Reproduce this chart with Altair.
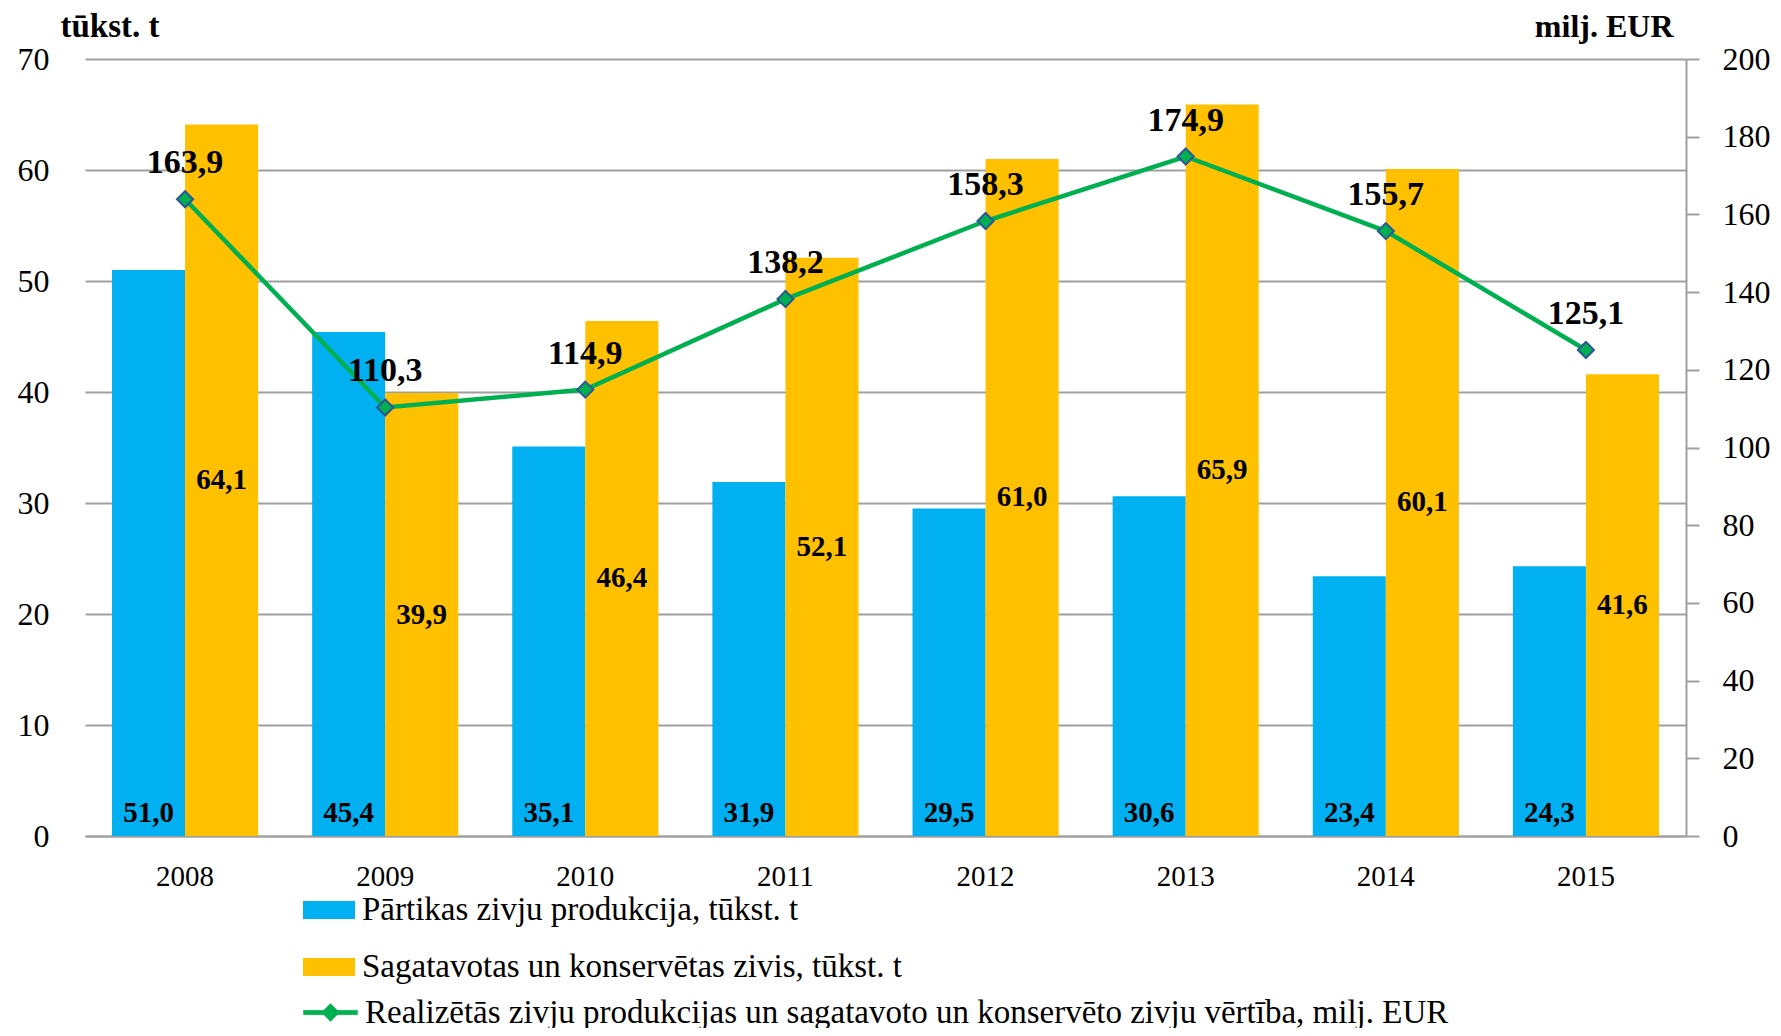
import altair as alt
import pandas as pd

years = ["2008", "2009", "2010", "2011", "2012", "2013", "2014", "2015"]
food = [51.0, 45.4, 35.1, 31.9, 29.5, 30.6, 23.4, 24.3]
canned = [64.1, 39.9, 46.4, 52.1, 61.0, 65.9, 60.1, 41.6]
value = [163.9, 110.3, 114.9, 138.2, 158.3, 174.9, 155.7, 125.1]

s_food = "Pārtikas zivju produkcija, tūkst. t"
s_canned = "Sagatavotas un konservētas zivis, tūkst. t"
s_value = "Realizētās zivju produkcijas un sagatavoto un konservēto zivju vērtība, milj. EUR"

left_ticks = [0, 10, 20, 30, 40, 50, 60, 70]
right_ticks = [0, 20, 40, 60, 80, 100, 120, 140, 160, 180, 200]

BLUE = "#00B0F0"
YELLOW = "#FFC000"
GREEN = "#00B050"
FONT = "Liberation Serif"

bars_df = pd.DataFrame({
    "year": years * 2,
    "series": [s_food] * len(years) + [s_canned] * len(years),
    "v": food + canned,
})
line_df = pd.DataFrame({"year": years, "series": [s_value] * len(years), "v": value})

xenc = alt.X("year:N", title=None,
             scale=alt.Scale(paddingInner=0.27, paddingOuter=0.135),
             axis=alt.Axis(labelAngle=0, ticks=False, domain=True, domainColor="#A0A0A0",
                           domainWidth=2, labelFontSize=29, labelPadding=26, labelColor="black"))
xoff = alt.XOffset("series:N", sort=[s_food, s_canned],
                   scale=alt.Scale(domain=[s_food, s_canned], paddingInner=0, paddingOuter=0))

yleft_scale = alt.Scale(domain=[0, 70], nice=False)
yleft_axis = alt.Axis(values=left_ticks, title="tūkst. t", titleAngle=0, titleAlign="left",
                      titleBaseline="alphabetic", titleX=-25, titleY=-23, titleFontSize=33,
                      titleFontWeight="bold", titleColor="black",
                      grid=True, gridColor="#A0A0A0", gridWidth=2, domain=False, ticks=False,
                      labelFontSize=32, labelPadding=36, labelColor="black")

bars = alt.Chart(bars_df).mark_bar().encode(
    x=xenc,
    xOffset=xoff,
    y=alt.Y("v:Q", scale=yleft_scale, axis=yleft_axis),
    color=alt.Color("series:N", scale=alt.Scale(domain=[s_food, s_canned], range=[BLUE, YELLOW]),
                    legend=alt.Legend(title=None, orient="none", legendX=218, legendY=825,
                                      direction="vertical", labelFontSize=33, labelColor="black",
                                      symbolType="M-1,-0.35H1V0.35H-1Z", symbolSize=2704,
                                      symbolStrokeWidth=0, rowPadding=14, labelOffset=7,
                                      labelLimit=1400)),
)

food_labels = alt.Chart(bars_df).transform_filter(
    alt.datum.series == s_food
).transform_calculate(
    zero="0", lab="replace(format(datum.v, '.1f'), '.', ',')"
).mark_text(font=FONT, fontSize=29, fontWeight="bold", color="black", baseline="middle", dy=-23).encode(
    x=xenc, xOffset=xoff,
    y=alt.Y("zero:Q", scale=yleft_scale),
    text="lab:N",
)

canned_labels = alt.Chart(bars_df).transform_filter(
    alt.datum.series == s_canned
).transform_calculate(
    half="datum.v / 2", lab="replace(format(datum.v, '.1f'), '.', ',')"
).mark_text(font=FONT, fontSize=29, fontWeight="bold", color="black", baseline="middle").encode(
    x=xenc, xOffset=xoff,
    y=alt.Y("half:Q", scale=yleft_scale),
    text="lab:N",
)

left = alt.layer(bars, food_labels, canned_labels)

yright_scale = alt.Scale(domain=[0, 200], nice=False)
yright_axis = alt.Axis(orient="right", values=right_ticks, title="milj. EUR", titleAngle=0,
                       titleAlign="right", titleBaseline="alphabetic", titleX=-13, titleY=-23,
                       titleFontSize=32, titleFontWeight="bold", titleColor="black",
                       grid=False, domain=True, domainColor="#A0A0A0", domainWidth=2,
                       ticks=True, tickColor="#A0A0A0", tickWidth=2, tickSize=13,
                       labelFontSize=32, labelPadding=23, labelColor="black")

line = alt.Chart(line_df).mark_line(strokeWidth=4.5).encode(
    x=xenc,
    y=alt.Y("v:Q", scale=yright_scale, axis=yright_axis),
    stroke=alt.Stroke("series:N", scale=alt.Scale(domain=[s_value], range=[GREEN]),
                      legend=alt.Legend(title=None, orient="none", legendX=218, legendY=926,
                                        labelFontSize=33, labelColor="black", labelOffset=7,
                                        symbolType="M-1,-0.08H1V0.08H-1Z M0,-0.33L0.33,0L0,0.33L-0.33,0Z",
                                        symbolSize=2916, symbolFillColor=GREEN, symbolStrokeWidth=0.5,
                                        labelLimit=1400)),
)

points = alt.Chart(line_df).mark_point(shape="diamond", filled=True, fill=GREEN, stroke="#2F5597",
                                        strokeWidth=2, size=260, opacity=1).encode(
    x=xenc,
    y=alt.Y("v:Q", scale=yright_scale),
)

line_labels = alt.Chart(line_df).transform_calculate(
    lab="replace(format(datum.v, '.1f'), '.', ',')"
).mark_text(font=FONT, fontSize=34, fontWeight="bold", color="black", baseline="middle", dy=-36).encode(
    x=xenc,
    y=alt.Y("v:Q", scale=yright_scale),
    text="lab:N",
)

right = alt.layer(line, points, line_labels)

chart = alt.layer(left, right).resolve_scale(
    y="independent"
).properties(
    width=1601, height=777,
    autosize=alt.AutoSizeParams(type="none"),
    padding={"left": 77, "top": 51, "right": 87, "bottom": 192},
).configure(
    font=FONT,
).configure_view(
    stroke=None,
)

chart.save("out.html", embed_options={"renderer": "svg", "actions": False})
